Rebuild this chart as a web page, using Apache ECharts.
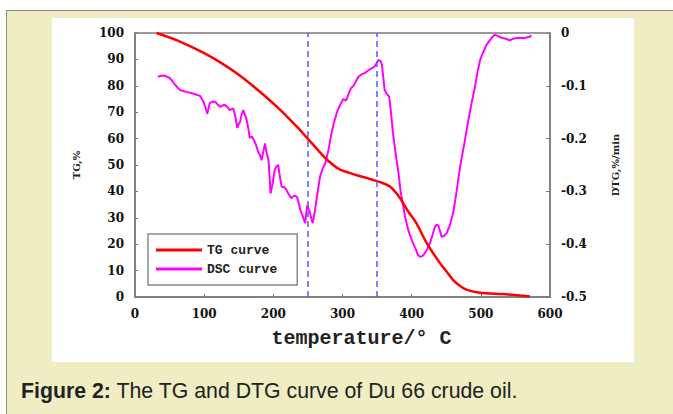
<!DOCTYPE html>
<html>
<head>
<meta charset="utf-8">
<script src="https://cdn.jsdelivr.net/npm/echarts@6/dist/echarts.min.js"></script>
<style>
  html, body { margin: 0; padding: 0; background: #ffffff; }
  #page { position: relative; width: 673px; height: 414px; overflow: hidden; }
  #frame {
    position: absolute; left: 6px; top: 10px; width: 667px; height: 404px;
    background: #eeeec2; border-left: 1.5px solid #8a8a8a; border-top: 1.5px solid #8a8a8a;
  }
  #panel { position: absolute; left: 52px; top: 18px; width: 582px; height: 344px; background: #ffffff; }
  #caption {
    position: absolute; left: 21px; top: 379px; font-family: "Liberation Sans", Arial, sans-serif;
    font-size: 21.3px; color: #222; white-space: nowrap;
  }
  #chart { position: absolute; left: 0; top: 0; width: 673px; height: 414px; }
</style>
</head>
<body>
<div id="page">
  <div id="frame"></div>
  <div id="panel"></div>
  <div id="caption"><b>Figure 2:</b> The TG and DTG curve of Du 66 crude oil.</div>
  <div id="chart"></div>
</div>
<script>
// Mass loss (TG, %) against temperature (°C)
const tgTemp = [31, 60, 100, 125, 150, 175, 205, 234, 249, 265, 278, 296, 310, 322, 335, 347, 359, 369, 378, 385, 396, 407, 422, 441, 451, 460, 470, 480, 499, 532, 555, 571];
const tgValue = [100, 97.3, 92.4, 88.6, 84.2, 79.0, 72.1, 64.5, 60.2, 55.5, 51.9, 48.3, 47.0, 46.0, 45.1, 44.1, 43.1, 41.8, 39.3, 36.7, 32.0, 27.9, 20.3, 12.8, 9.5, 6.4, 4.2, 2.7, 1.6, 1.1, 0.6, 0.2];

// Rate of mass loss (DTG, %/min) against temperature (°C)
const dscTemp = [33, 38, 43, 47, 51, 55, 58, 62, 65, 70, 75, 80, 87, 94, 99, 102, 104.5, 106, 108, 112, 116, 120, 123, 127, 130, 134, 137, 142, 145, 148, 150, 152, 154, 156.6, 159, 161.5, 164, 166, 169, 172, 175, 178, 181, 183, 185, 188, 190, 193, 194.5, 196, 199, 202, 205, 207, 209, 212, 216, 219, 222, 226, 230, 234, 236, 239, 242, 246, 249, 251, 253, 255, 257, 259, 260, 263, 267.5, 271, 275, 280, 284, 288, 292, 296, 301, 305, 308, 312, 316, 320, 323, 328, 332, 337, 342, 346, 349, 352, 355, 357, 359, 361, 364, 367.6, 370, 373, 377, 381, 384, 388, 391, 395, 399, 402, 406, 409, 412, 416, 419, 423, 426.5, 430, 433.7, 436, 438.5, 441, 443.3, 447, 450.6, 455, 460, 465, 470, 476, 482, 487, 491.5, 495, 499, 503, 508, 514, 520, 525, 530, 536, 542, 546, 550, 556, 562, 567, 571, 573];
const dscValue = [-0.083, -0.081, -0.081, -0.083, -0.086, -0.093, -0.098, -0.104, -0.108, -0.110, -0.112, -0.113, -0.116, -0.119, -0.130, -0.142, -0.153, -0.145, -0.133, -0.130, -0.130, -0.136, -0.140, -0.137, -0.136, -0.141, -0.146, -0.143, -0.158, -0.180, -0.172, -0.168, -0.155, -0.146, -0.155, -0.165, -0.182, -0.199, -0.196, -0.203, -0.212, -0.225, -0.232, -0.241, -0.228, -0.209, -0.225, -0.241, -0.270, -0.304, -0.285, -0.259, -0.252, -0.250, -0.268, -0.291, -0.292, -0.297, -0.305, -0.313, -0.308, -0.310, -0.318, -0.335, -0.345, -0.360, -0.326, -0.333, -0.341, -0.352, -0.360, -0.345, -0.338, -0.310, -0.272, -0.258, -0.247, -0.220, -0.190, -0.168, -0.150, -0.138, -0.125, -0.128, -0.118, -0.105, -0.100, -0.090, -0.083, -0.078, -0.076, -0.071, -0.067, -0.064, -0.058, -0.051, -0.053, -0.060, -0.085, -0.108, -0.115, -0.121, -0.150, -0.190, -0.230, -0.266, -0.300, -0.329, -0.352, -0.373, -0.388, -0.398, -0.410, -0.420, -0.424, -0.422, -0.417, -0.408, -0.398, -0.383, -0.367, -0.363, -0.364, -0.375, -0.386, -0.384, -0.379, -0.365, -0.341, -0.300, -0.253, -0.210, -0.165, -0.130, -0.102, -0.075, -0.051, -0.038, -0.023, -0.012, -0.003, -0.006, -0.009, -0.011, -0.014, -0.011, -0.010, -0.009, -0.010, -0.008, -0.007, -0.004];

// Reference temperatures marked with dashed lines
const markTemps = [250, 350];

const tgData = tgTemp.map((t, i) => [t, tgValue[i]]);
const dscData = dscTemp.map((t, i) => [t, dscValue[i]]);

const labelFont = { fontFamily: 'DejaVu Serif', fontWeight: 'bold', fontSize: 12, color: '#111' };
const axisGray = '#7a7a7a';

const chart = echarts.init(document.getElementById('chart'), null, { renderer: 'svg' });
chart.setOption({
  animation: false,
  backgroundColor: 'transparent',
  grid: {
    left: 135, right: 123, top: 33, bottom: 117,
    show: true, borderColor: axisGray, borderWidth: 1.5, backgroundColor: 'transparent'
  },
  legend: {
    orient: 'vertical', left: 148, top: 234,
    padding: [8, 20, 8, 8],
    icon: 'rect',
    itemWidth: 46, itemHeight: 3, itemGap: 3,
    borderColor: '#8a8a8a', borderWidth: 1.5, backgroundColor: '#ffffff',
    textStyle: { fontFamily: 'Liberation Mono', fontWeight: 'bold', fontSize: 13, lineHeight: 16, color: '#222' },
    data: ['TG curve', 'DSC curve']
  },
  xAxis: {
    type: 'value', min: 0, max: 600, interval: 100,
    name: 'temperature/° C', nameLocation: 'middle', nameGap: 31,
    nameTextStyle: { fontFamily: 'Liberation Mono', fontWeight: 'bold', fontSize: 20, color: '#222', padding: [0, 0, 0, 38] },
    axisLine: { show: true, lineStyle: { color: axisGray, width: 1.5 } },
    axisTick: { show: true, inside: true, length: 3, lineStyle: { color: axisGray } },
    axisLabel: Object.assign({ margin: 11 }, labelFont),
    splitLine: { show: false }
  },
  yAxis: [
    {
      type: 'value', min: 0, max: 100, interval: 10, position: 'left',
      name: 'TG,%', nameLocation: 'middle', nameGap: 54, nameRotate: 90,
      nameTextStyle: { fontFamily: 'DejaVu Serif', fontWeight: 'bold', fontSize: 10, color: '#222' },
      axisLine: { show: true, lineStyle: { color: axisGray, width: 1.5 } },
      axisTick: { show: true, inside: true, length: 3, lineStyle: { color: axisGray } },
      axisLabel: Object.assign({ margin: 11 }, labelFont),
      splitLine: { show: false }
    },
    {
      type: 'value', min: -0.5, max: 0, interval: 0.1, position: 'right',
      name: 'DTG,%/min', nameLocation: 'middle', nameGap: 60, nameRotate: 90,
      nameTextStyle: { fontFamily: 'DejaVu Serif', fontWeight: 'bold', fontSize: 10, color: '#222' },
      axisLine: { show: true, lineStyle: { color: axisGray, width: 1.5 } },
      axisTick: { show: true, inside: true, length: 4, lineStyle: { color: axisGray } },
      axisLabel: Object.assign({ margin: 11 }, labelFont),
      splitLine: { show: false }
    }
  ],
  series: [
    {
      name: 'TG curve', type: 'line', yAxisIndex: 0, data: tgData,
      showSymbol: false, symbol: 'none', smooth: 0.3,
      lineStyle: { color: '#ff0000', width: 2.5 }, itemStyle: { color: '#ff0000' },
      z: 3,
      markLine: {
        silent: true, symbol: 'none', label: { show: false },
        lineStyle: { color: '#5a5aff', width: 1.5, type: [6, 4] },
        data: markTemps.map(t => ({ xAxis: t }))
      }
    },
    {
      name: 'DSC curve', type: 'line', yAxisIndex: 1, data: dscData,
      showSymbol: false, symbol: 'none',
      lineStyle: { color: '#ff00ff', width: 2 }, itemStyle: { color: '#ff00ff' },
      z: 2
    }
  ]
});
</script>
</body>
</html>
